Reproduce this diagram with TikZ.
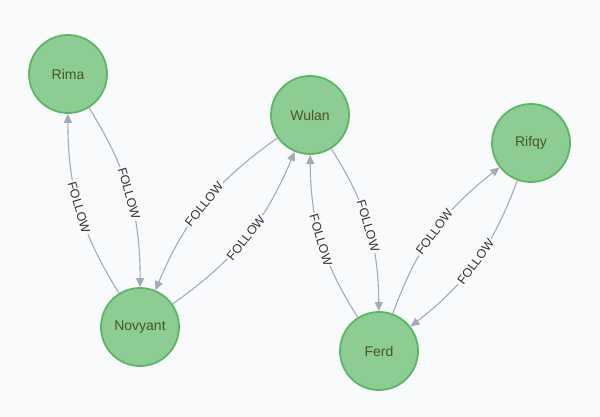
\documentclass[tikz,border=0pt]{standalone}
\usepackage{fontspec}
\setmainfont{Liberation Sans}
\usetikzlibrary{arrows.meta}
\definecolor{bgc}{HTML}{F9FAFB}
\definecolor{nodefill}{HTML}{8DCC93}
\definecolor{nodeline}{HTML}{5DB665}
\definecolor{nodetext}{HTML}{4A5528}
\definecolor{edgec}{HTML}{A5ABB6}
\definecolor{labtext}{HTML}{333333}
\tikzset{
  person/.style={circle, minimum size=78pt, inner sep=0pt, fill=nodefill, draw=nodeline, line width=1.8pt, text=nodetext, font=\fontsize{14}{16}\selectfont},
  rel/.style={draw=edgec, line width=1.1pt, -{Triangle[width=8pt,length=9pt]}},
  rellab/.style={sloped, pos=0.5, fill=bgc, inner sep=1.5pt, text=labtext, font=\fontsize{12.5}{14}\selectfont}
}
\begin{document}
\begin{tikzpicture}[x=1pt,y=-1pt]
\fill[bgc] (0,0) rectangle (600,417);
\useasboundingbox (0,0) rectangle (600,417);
\node[person] (rima) at (68,74) {Rima};
\node[person] (wulan) at (310,115) {Wulan};
\node[person] (rifqy) at (531,143) {Rifqy};
\node[person] (novyant) at (140,327) {Novyant};
\node[person] (ferd) at (379,351) {Ferd};

\draw[rel] (novyant) to[bend left=16] node[rellab] {FOLLOW} (rima);
\draw[rel] (rima) to[bend left=16] node[rellab] {FOLLOW} (novyant);
\draw[rel] (wulan) to[bend right=16] node[rellab] {FOLLOW} (novyant);
\draw[rel] (novyant) to[bend right=16] node[rellab] {FOLLOW} (wulan);
\draw[rel] (ferd) to[bend left=16] node[rellab] {FOLLOW} (wulan);
\draw[rel] (wulan) to[bend left=16] node[rellab] {FOLLOW} (ferd);
\draw[rel] (ferd) to[bend left=16] node[rellab] {FOLLOW} (rifqy);
\draw[rel] (rifqy) to[bend left=16] node[rellab] {FOLLOW} (ferd);
\end{tikzpicture}
\end{document}
